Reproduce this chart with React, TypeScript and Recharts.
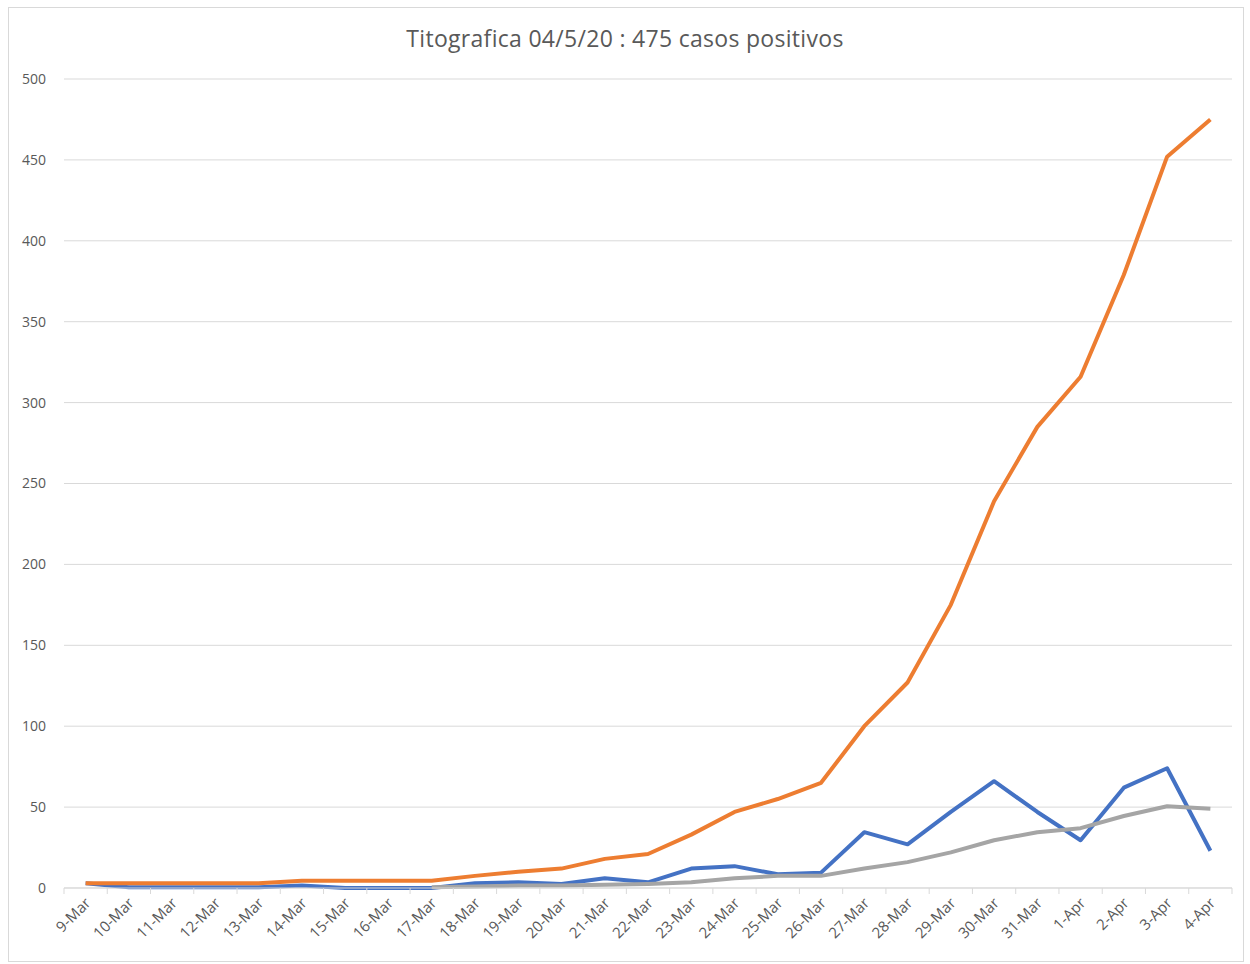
import React from "react"
import { LineChart, Line, CartesianGrid, XAxis, YAxis } from "recharts"

const days = [
  "9-Mar", "10-Mar", "11-Mar", "12-Mar", "13-Mar", "14-Mar", "15-Mar", "16-Mar", "17-Mar",
  "18-Mar", "19-Mar", "20-Mar", "21-Mar", "22-Mar", "23-Mar", "24-Mar", "25-Mar", "26-Mar",
  "27-Mar", "28-Mar", "29-Mar", "30-Mar", "31-Mar", "1-Apr", "2-Apr", "3-Apr", "4-Apr",
]
const totalCases = [
  3, 3, 3, 3, 3, 4.5, 4.5, 4.5, 4.5, 7.5, 10, 12, 18, 21, 33, 47, 55, 65,
  100, 127, 175, 239, 285, 316, 379, 452, 475,
]
const newCases = [
  3, 0.5, 0.5, 0.5, 0.5, 1.5, 0, 0, 0, 3, 3.5, 2.5, 6, 3.5, 12, 13.5, 8.5, 9.5,
  34.5, 27, 47, 66, 47, 29.5, 62, 74, 23,
]
const avgCases = [
  null, null, null, null, null, null, null, null, 0.5, 1, 1.5, 1.5, 2, 2.5, 3.5, 6, 7.5, 7.5,
  12, 16, 22, 29.5, 34.5, 37, 44.5, 50.5, 49,
]
const yTicks = [0, 50, 100, 150, 200, 250, 300, 350, 400, 450, 500]

const data = days.map((day, i) => ({
  day,
  total: totalCases[i],
  nuevos: newCases[i],
  media: avgCases[i],
}))

const W = 1250
const H = 964
const LEFT = 64
const RIGHT = 18
const TOP = 79
const BOTTOM = 76
const band = (W - LEFT - RIGHT) / days.length
const font = "'Open Sans', sans-serif"

function DayTick(props: any) {
  const { x, y, payload, index } = props
  return (
    <g transform={`translate(${x},${y})`}>
      <line x1={-band / 2} x2={-band / 2} y1={0} y2={6} stroke="#d9d9d9" />
      {index === days.length - 1 && (
        <line x1={band / 2} x2={band / 2} y1={0} y2={6} stroke="#d9d9d9" />
      )}
      <text
        x={6}
        y={16}
        textAnchor="end"
        transform="rotate(-45 6 16)"
        fill="#595959"
        fontSize={15}
        fontFamily={font}
      >
        {payload.value}
      </text>
    </g>
  )
}

export default function App() {
  return (
    <div style={{ position: "absolute", left: 0, top: 0, width: W, height: H, background: "#fff" }}>
      <div
        style={{
          position: "absolute",
          left: 8,
          top: 7,
          width: W - 14,
          height: H - 9,
          border: "1px solid #d9d9d9",
          boxSizing: "border-box",
        }}
      />
      <div
        style={{
          position: "absolute",
          top: 22,
          left: 0,
          width: W,
          textAlign: "center",
          fontFamily: font,
          fontSize: 23,
          letterSpacing: 0.3,
          color: "#595959",
        }}
      >
        Titografica 04/5/20 : 475 casos positivos
      </div>
      <div style={{ position: "absolute", left: 0, top: 0 }}>
        <LineChart width={W} height={H} data={data} margin={{ top: TOP, right: RIGHT, left: 0, bottom: 0 }}>
          <CartesianGrid vertical={false} stroke="#d9d9d9" />
          <XAxis
            dataKey="day"
            height={BOTTOM}
            interval={0}
            padding={{ left: band / 2, right: band / 2 }}
            stroke="#d9d9d9"
            tickLine={false}
            tickSize={0}
            tickMargin={0}
            tick={<DayTick />}
          />
          <YAxis
            width={LEFT}
            domain={[0, 500]}
            ticks={yTicks}
            axisLine={false}
            tickLine={false}
            tickSize={6}
            tickMargin={12}
            tick={{ fill: "#595959", fontSize: 14, fontFamily: font }}
          />
          <Line
            type="linear"
            dataKey="nuevos"
            stroke="#4472c4"
            strokeWidth={4}
            strokeLinejoin="round"
            dot={false}
            isAnimationActive={false}
          />
          <Line
            type="linear"
            dataKey="total"
            stroke="#ed7d31"
            strokeWidth={4}
            strokeLinejoin="round"
            dot={false}
            isAnimationActive={false}
          />
          <Line
            type="linear"
            dataKey="media"
            stroke="#a5a5a5"
            strokeWidth={4}
            strokeLinejoin="round"
            dot={false}
            connectNulls={false}
            isAnimationActive={false}
          />
        </LineChart>
      </div>
    </div>
  )
}
